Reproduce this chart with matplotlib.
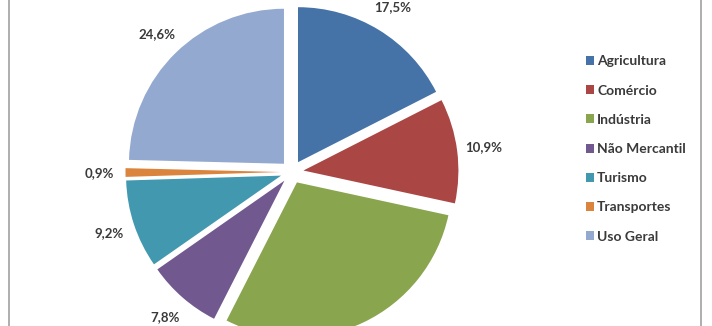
import matplotlib
matplotlib.use("Agg")
import matplotlib.pyplot as plt
from matplotlib.patches import Rectangle

categories = ["Agricultura", "Comércio", "Indústria", "Não Mercantil",
              "Turismo", "Transportes", "Uso Geral"]
values = [17.5, 10.9, 29.1, 7.8, 9.2, 0.9, 24.6]
colors = ["#4572A7", "#AA4643", "#89A54E", "#71588F",
          "#4198AF", "#DB843D", "#93A9CF"]

plt.rcParams['font.family'] = ['Lato', 'DejaVu Sans']

W, H = 712, 326
fig = plt.figure(figsize=(W / 100, H / 100), dpi=100)
fig.patch.set_facecolor("white")
ax = fig.add_axes([0, 0, 1, 1])

R = 155
wedges, _, autotexts = ax.pie(
    values, colors=colors, radius=R, center=(292, H - 172),
    startangle=90, counterclock=False,
    explode=[11.5] * len(values),
    autopct=lambda p: f"{p:.1f}%".replace(".", ","),
    pctdistance=1.17,
    textprops=dict(fontsize=9.5, fontweight="bold", color="#3a3a3a"),
    wedgeprops=dict(linewidth=0),
    frame=True,
)
# the Indústria label lies below the visible (cropped) area in the reference
autotexts[2].set_visible(False)

ax.set_xlim(0, W)
ax.set_ylim(0, H)
ax.set_aspect("equal")
ax.axis("off")

# chart frame borders
for x in (9, 701):
    ax.add_patch(Rectangle((x - 1, -5), 2, H + 10, color="#b0b0b0", lw=0,
                           clip_on=False))

leg = fig.legend(wedges, categories, loc="center left",
                 bbox_to_anchor=(586 / W, (H - 149) / H),
                 frameon=False, fontsize=10, handlelength=0.6,
                 handleheight=0.6, handletextpad=0.2, labelspacing=1.24,
                 borderpad=0, borderaxespad=0)
for t in leg.get_texts():
    t.set_fontweight("bold")
    t.set_color("#3a3a3a")

fig.savefig("out.png", dpi=100, facecolor="white")
